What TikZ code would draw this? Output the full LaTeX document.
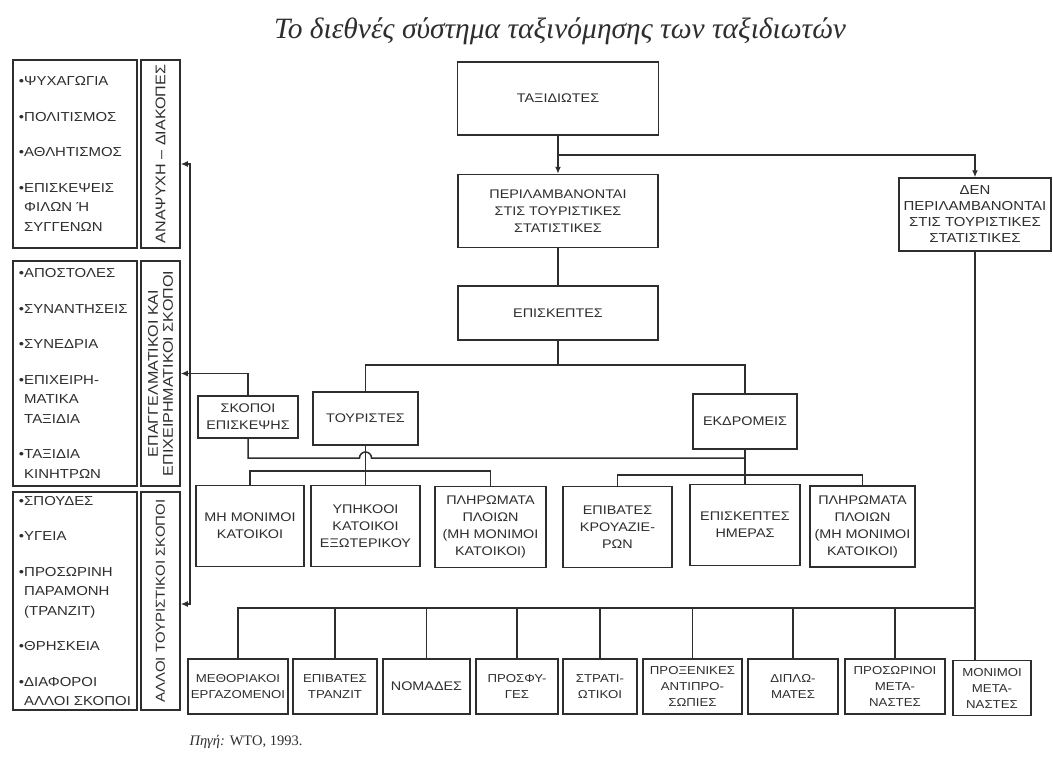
\documentclass[tikz,border=0pt]{standalone}
\usepackage{fontspec}
\setmainfont{Liberation Serif}
\newfontfamily\boxfont[FakeStretch=1.15]{Liberation Sans}
\usetikzlibrary{arrows.meta}
\definecolor{ink}{HTML}{2E2E2E}

\begin{document}
\begin{tikzpicture}[x=1pt, y=-1pt,
    box/.style={draw=ink, line width=1.5pt, fill=white, text=ink, align=center, inner sep=2pt,
      font=\boxfont\fontsize{12.5pt}{17pt}\selectfont},
    lowbox/.style={box, font=\boxfont\fontsize{11.5pt}{16pt}\selectfont, minimum height=55pt},
    listbox/.style={draw=ink, line width=1.5pt, text=ink, align=left, inner xsep=6pt, text width=112pt,
      font=\boxfont\fontsize{13pt}{19.5pt}\selectfont},
    sidebox/.style={draw=ink, line width=1.5pt, text=ink, rotate=90, align=center, inner sep=1pt,
      minimum height=39pt, font=\boxfont\fontsize{14pt}{15pt}\selectfont},
    link/.style={draw=ink, line width=1.5pt},
    arrow/.style={link, -{Latex[length=7pt, width=6pt]}}
  ]
  \path[fill=white, use as bounding box] (0,0) rectangle (1053,756);

  \node[font=\itshape\fontsize{29.5pt}{32pt}\selectfont, text=ink] (title) at (560,31)
    {Το διεθνές σύστημα ταξινόμησης των ταξιδιωτών};

  % main tree
  \node[box, minimum width=201pt, minimum height=73pt] (trav)    at (558,98.5)  {ΤΑΞΙΔΙΩΤΕΣ};
  \node[box, minimum width=200pt, minimum height=73pt] (incl)    at (558,211)   {ΠΕΡΙΛΑΜΒΑΝΟΝΤΑΙ\\ΣΤΙΣ ΤΟΥΡΙΣΤΙΚΕΣ\\ΣΤΑΤΙΣΤΙΚΕΣ};
  \node[box, minimum width=152pt, minimum height=73pt,
        font=\boxfont\fontsize{13pt}{16pt}\selectfont] (notincl) at (975,214.5) {ΔΕΝ\\ΠΕΡΙΛΑΜΒΑΝΟΝΤΑΙ\\ΣΤΙΣ ΤΟΥΡΙΣΤΙΚΕΣ\\ΣΤΑΤΙΣΤΙΚΕΣ};
  \node[box, minimum width=200pt, minimum height=54pt] (visit)   at (558,313)   {ΕΠΙΣΚΕΠΤΕΣ};
  \node[box, minimum width=100pt, minimum height=42pt] (purp)    at (248,417)   {ΣΚΟΠΟΙ\\ΕΠΙΣΚΕΨΗΣ};
  \node[box, minimum width=105pt, minimum height=53pt] (tour)    at (365.5,418.5) {ΤΟΥΡΙΣΤΕΣ};
  \node[box, minimum width=104pt, minimum height=55pt] (excur)   at (745,421.5) {ΕΚΔΡΟΜΕΙΣ};

  % tourists and excursionists
  \node[box, minimum width=108pt, minimum height=81pt] (t1) at (250,526)   {ΜΗ ΜΟΝΙΜΟΙ\\ΚΑΤΟΙΚΟΙ};
  \node[box, minimum width=109pt, minimum height=81pt] (t2) at (365.5,526) {ΥΠΗΚΟΟΙ\\ΚΑΤΟΙΚΟΙ\\ΕΞΩΤΕΡΙΚΟΥ};
  \node[box, minimum width=111pt, minimum height=81pt] (t3) at (490.5,527) {ΠΛΗΡΩΜΑΤΑ\\ΠΛΟΙΩΝ\\(ΜΗ ΜΟΝΙΜΟΙ\\ΚΑΤΟΙΚΟΙ)};
  \node[box, minimum width=109pt, minimum height=81pt] (e1) at (617.5,527) {ΕΠΙΒΑΤΕΣ\\ΚΡΟΥΑΖΙΕ-\\ΡΩΝ};
  \node[box, minimum width=110pt, minimum height=81pt] (e2) at (745,525)   {ΕΠΙΣΚΕΠΤΕΣ\\ΗΜΕΡΑΣ};
  \node[box, minimum width=105pt, minimum height=81pt] (e3) at (862.5,526.5) {ΠΛΗΡΩΜΑΤΑ\\ΠΛΟΙΩΝ\\(ΜΗ ΜΟΝΙΜΟΙ\\ΚΑΤΟΙΚΟΙ)};

  % not in tourism statistics
  \node[lowbox, minimum width=100pt] (b1) at (238,686.5)   {ΜΕΘΟΡΙΑΚΟΙ\\ΕΡΓΑΖΟΜΕΝΟΙ};
  \node[lowbox, minimum width=84pt]  (b2) at (335,686.5)   {ΕΠΙΒΑΤΕΣ\\ΤΡΑΝΖΙΤ};
  \node[lowbox, minimum width=87pt, font=\boxfont\fontsize{12.5pt}{16pt}\selectfont] (b3) at (426.5,686.5) {ΝΟΜΑΔΕΣ};
  \node[lowbox, minimum width=82pt]  (b4) at (517,686.5)   {ΠΡΟΣΦΥ-\\ΓΕΣ};
  \node[lowbox, minimum width=74pt]  (b5) at (600,686.5)   {ΣΤΡΑΤΙ-\\ΩΤΙΚΟΙ};
  \node[lowbox, minimum width=99pt]  (b6) at (692.5,686.5) {ΠΡΟΞΕΝΙΚΕΣ\\ΑΝΤΙΠΡΟ-\\ΣΩΠΙΕΣ};
  \node[lowbox, minimum width=90pt]  (b7) at (793,686.5)   {ΔΙΠΛΩ-\\ΜΑΤΕΣ};
  \node[lowbox, minimum width=100pt] (b8) at (895,686.5)   {ΠΡΟΣΩΡΙΝΟΙ\\ΜΕΤΑ-\\ΝΑΣΤΕΣ};
  \node[lowbox, minimum width=78pt]  (b9) at (992,688)     {ΜΟΝΙΜΟΙ\\ΜΕΤΑ-\\ΝΑΣΤΕΣ};

  % purposes of visit
  \node[listbox, minimum height=188pt] (list1) at (75,154)
    {•ΨΥΧΑΓΩΓΙΑ\\[16pt]•ΠΟΛΙΤΙΣΜΟΣ\\[16pt]•ΑΘΛΗΤΙΣΜΟΣ\\[16pt]•ΕΠΙΣΚΕΨΕΙΣ\\\phantom{•}ΦΙΛΩΝ~Ή\\\phantom{•}ΣΥΓΓΕΝΩΝ};
  \node[listbox, minimum height=225pt] (list2) at (75,373.5)
    {•ΑΠΟΣΤΟΛΕΣ\\[16pt]•ΣΥΝΑΝΤΗΣΕΙΣ\\[16pt]•ΣΥΝΕΔΡΙΑ\\[16pt]•ΕΠΙΧΕΙΡΗ-\\\phantom{•}ΜΑΤΙΚΑ\\\phantom{•}ΤΑΞΙΔΙΑ\\[16pt]•ΤΑΞΙΔΙΑ\\\phantom{•}ΚΙΝΗΤΡΩΝ};
  \node[listbox, minimum height=218pt] (list3) at (75,601)
    {•ΣΠΟΥΔΕΣ\\[16pt]•ΥΓΕΙΑ\\[16pt]•ΠΡΟΣΩΡΙΝΗ\\\phantom{•}ΠΑΡΑΜΟΝΗ\\\phantom{•}(ΤΡΑΝΖΙΤ)\\[16pt]•ΘΡΗΣΚΕΙΑ\\[16pt]•ΔΙΑΦΟΡΟΙ\\\phantom{•}ΑΛΛΟΙ~ΣΚΟΠΟΙ};
  \node[sidebox, minimum width=188pt] (side1) at (160.5,154)   {ΑΝΑΨΥΧΗ – ΔΙΑΚΟΠΕΣ};
  \node[sidebox, minimum width=225pt] (side2) at (160.5,373.5) {ΕΠΑΓΓΕΛΜΑΤΙΚΟΙ ΚΑΙ\\ΕΠΙΧΕΙΡΗΜΑΤΙΚΟΙ ΣΚΟΠΟΙ};
  \node[sidebox, minimum width=218pt, font=\boxfont\fontsize{13pt}{15pt}\selectfont] (side3) at (160.5,601) {ΑΛΛΟΙ ΤΟΥΡΙΣΤΙΚΟΙ ΣΚΟΠΟΙ};

  \node[anchor=west, text=ink, font=\fontsize{14.5pt}{16pt}\selectfont] (src) at (186,742) {\textit{Πηγή:} WTO, 1993.};

  % connectors
  \coordinate (split) at (558,155);
  \draw[arrow] (trav) -- (incl);
  \draw[arrow] (split) -| (notincl);
  \draw[link] (incl) -- (visit);

  \coordinate (vj) at (558,365);
  \draw[link] (visit) -- (vj);
  \draw[link] (tour) |- (vj) -| (excur);

  \coordinate (tj) at (365.5,471);
  \draw[link] (tour) -- (t2);
  \draw[link] (t1) |- (tj) -| (t3);
  \coordinate (ej) at (745,475);
  \draw[link] (excur) -- (e2);
  \draw[link] (e1) |- (ej) -| (e3);

  \draw[link] (purp.south) |- (359.5,458) arc[start angle=180, end angle=0, radius=6pt] -- (745,458);

  \coordinate (trunk) at (190,373.5);
  \coordinate (in1) at (side1.south |- 0,164);
  \coordinate (in3) at (side3.south |- 0,604);
  \draw[arrow] (purp) |- (side2);
  \draw[arrow] (trunk) |- (in1);
  \draw[arrow] (trunk) |- (in3);

  \coordinate (nj) at (975,608);
  \draw[link] (notincl.south) -- (notincl.south |- b9.north);
  \draw[link] (b1) |- (nj);
  \foreach \b in {b2,b3,b4,b5,b6,b7,b8}
    \draw[link] (\b.north) -- (\b.north |- nj);
\end{tikzpicture}
\end{document}
